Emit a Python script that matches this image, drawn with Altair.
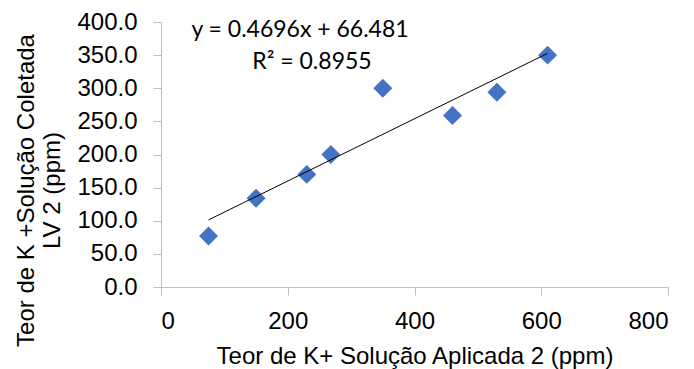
import altair as alt
import pandas as pd

# Data
x_applied = [75, 150, 230, 268, 350, 460, 530, 610]
y_collected = [77, 134, 170, 200, 300, 259, 294, 350]
x_ticks = [0, 200, 400, 600, 800]
y_ticks = [0, 50, 100, 150, 200, 250, 300, 350, 400]
equation_text = ["y = 0.4696x + 66.481"]
r2_text = ["R² = 0.8955"]

x_title = "Teor de K+ Solução Aplicada 2 (ppm)"
y_title = ["Teor de K +Solução Coletada", "LV 2 (ppm)"]

df = pd.DataFrame({"x": x_applied, "y": y_collected})

AXIS_FONT = "Liberation Sans"
AXIS_GRAY = "#bfbfbf"

x_enc = alt.X(
    "x:Q",
    scale=alt.Scale(domain=[0, 800], nice=False, zero=True),
    axis=alt.Axis(
        values=x_ticks,
        title=x_title,
        grid=False,
        tickSize=8,
        labelPadding=14,
        labelOverlap=False,
        titleY=76,
        titleBaseline="alphabetic",
    ),
)
y_enc = alt.Y(
    "y:Q",
    scale=alt.Scale(domain=[0, 400], nice=False, zero=True),
    axis=alt.Axis(
        values=y_ticks,
        format=".1f",
        title=y_title,
        grid=False,
        tickSize=8,
        labelPadding=16,
        labelOverlap=False,
        labelFlush=False,
        titleAngle=270,
        titleX=-128,
        titleY=168,
        titleAlign="center",
        titleBaseline="alphabetic",
        titleLineHeight=26,
    ),
)

points = alt.Chart(df).mark_point(
    shape="diamond", filled=True, size=360, color="#4472C4", opacity=1
).encode(x=x_enc, y=y_enc)

trend = (
    alt.Chart(df)
    .transform_regression("x", "y", method="linear")
    .mark_line(color="black", strokeWidth=1)
    .encode(x=x_enc, y=y_enc)
)

eq1 = alt.Chart(pd.DataFrame({"t": equation_text})).mark_text(
    font="Lato", fontSize=23, color="black", align="center", baseline="middle"
).encode(text="t:N", x=alt.value(139), y=alt.value(8))

eq2 = alt.Chart(pd.DataFrame({"t": r2_text})).mark_text(
    font="Lato", fontSize=23, color="black", align="center", baseline="middle"
).encode(text="t:N", x=alt.value(151), y=alt.value(40))

chart = (
    alt.layer(points, trend, eq1, eq2)
    .properties(
        width=507,
        height=265,
        autosize=alt.AutoSizeParams(type="none"),
        padding={"left": 161, "top": 22, "right": 26, "bottom": 82},
    )
    .configure_view(stroke=None)
    .configure_axis(
        labelFont=AXIS_FONT,
        labelFontSize=24,
        labelColor="black",
        titleFont=AXIS_FONT,
        titleFontSize=24,
        titleColor="black",
        titleFontWeight="normal",
        domainColor=AXIS_GRAY,
        tickColor=AXIS_GRAY,
        domainWidth=1,
        tickWidth=1,
    )
)

chart.save("out.html", embed_options={"renderer": "svg", "actions": False})
